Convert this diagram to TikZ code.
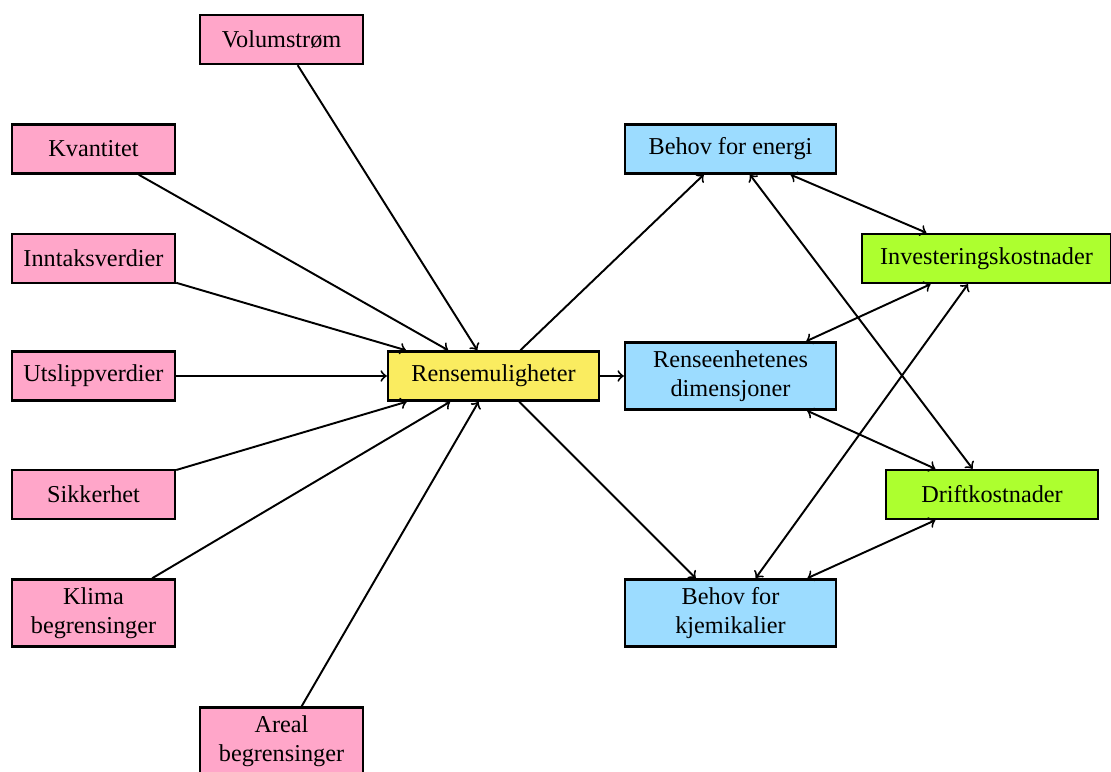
\documentclass[tikz,border=0pt]{standalone}
\usepackage{fontspec}
\setmainfont{Liberation Serif}
\definecolor{rosa}{RGB}{255,166,201}
\definecolor{lysblaa}{RGB}{156,220,255}
\definecolor{gul}{RGB}{250,236,96}
\definecolor{lime}{RGB}{173,255,47}
\begin{document}
\begin{tikzpicture}[x=0.4124pt,y=-0.4124pt,
    boks/.style={draw,line width=1pt,align=center,minimum height=20.2pt,inner sep=3.3pt},
    inn/.style={boks,fill=rosa,minimum width=67.2pt},
    mid/.style={boks,fill=gul,minimum width=87pt},
    ut/.style={boks,fill=lysblaa,minimum width=87pt},
    kost/.style={boks,fill=lime,minimum width=87.4pt},
    pil/.style={thick,->},
    dpil/.style={thick,<->}]
    \useasboundingbox (0,0) rectangle (1111,771);
    \node[inn] (vol) at (281.5,39.5)  {Volumstrøm};
    \node[inn] (kva) at (93.5,149)    {Kvantitet};
    \node[inn] (inn) at (93.5,258.5)  {Inntaksverdier};
    \node[inn] (uts) at (93.5,376)    {Utslippverdier};
    \node[inn] (sik) at (93.5,494.5)  {Sikkerhet};
    \node[inn] (kli) at (93.5,613)    {Klima\\begrensinger};
    \node[inn] (are) at (281.5,741)   {Areal\\begrensinger};
    \node[mid] (ren) at (493.5,376)   {Rensemuligheter};
    \node[ut]  (ene) at (730.5,149)   {Behov for energi};
    \node[ut]  (dim) at (730.5,376)   {Renseenhetenes\\dimensjoner};
    \node[ut]  (kje) at (730.5,613)   {Behov for\\kjemikalier};
    \node[kost,minimum width=102.7pt] (inv) at (986.5,258.5) {Investeringskostnader};
    \node[kost] (dri) at (992,494.5)  {Driftkostnader};
    % inn i rensemuligheter
    \foreach \n in {vol,kva,inn,uts,sik,kli,are}
        \draw[pil] (\n) -- (ren);
    % ut fra rensemuligheter
    \foreach \n in {ene,dim,kje}
        \draw[pil] (ren) -- (\n);
    % kostnader
    \draw[dpil] (ene) -- (inv);
    \draw[dpil] (ene) -- (dri);
    \draw[dpil] (dim) -- (inv);
    \draw[dpil] (dim) -- (dri);
    \draw[dpil] (kje) -- (inv);
    \draw[dpil] (kje) -- (dri);
\end{tikzpicture}
\end{document}
